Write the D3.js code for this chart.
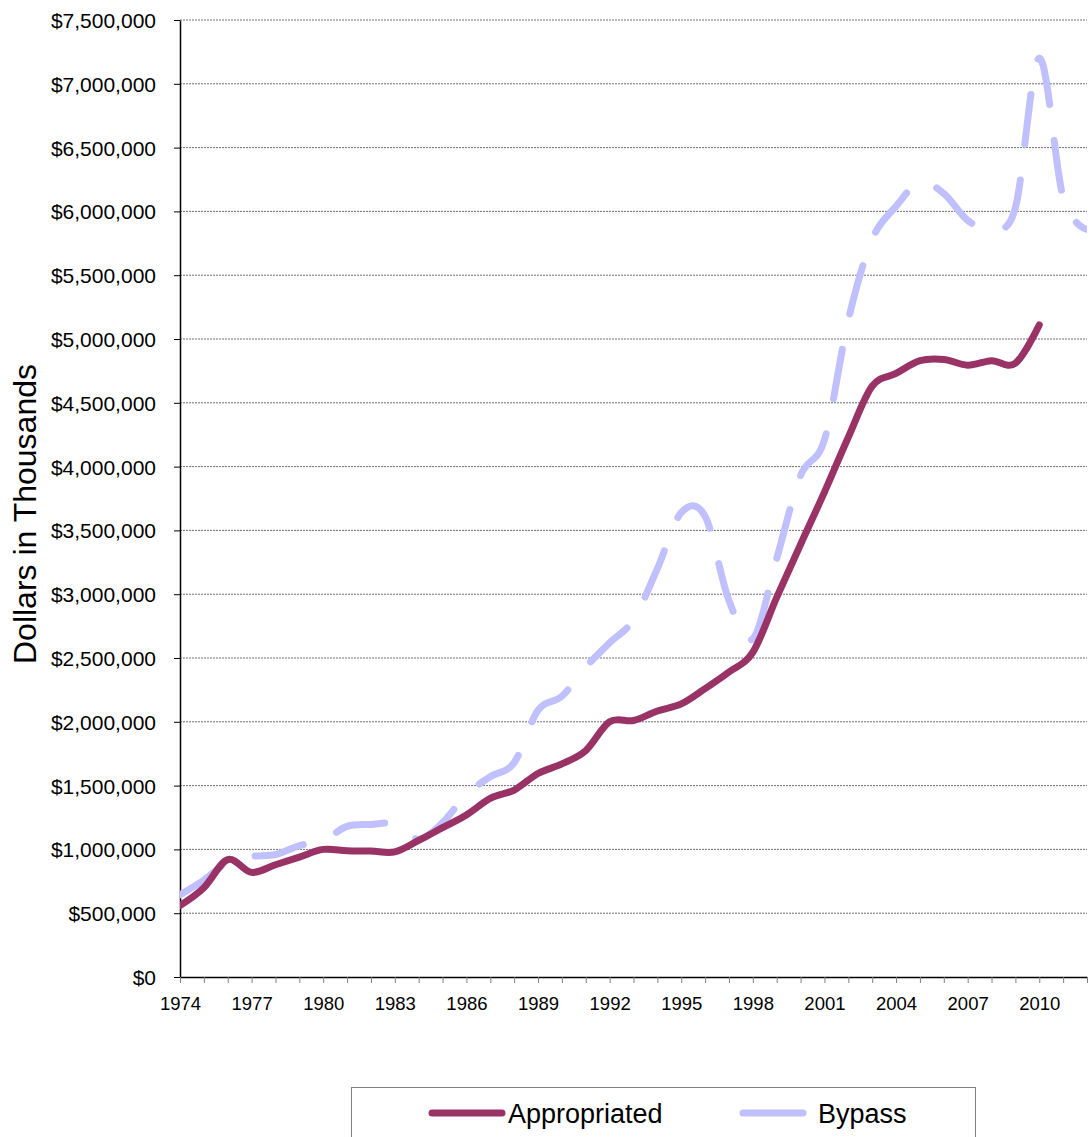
<!DOCTYPE html>
<html>
<head>
<meta charset="utf-8">
<script src="https://cdn.jsdelivr.net/npm/d3@7"></script>
<style>
  body { margin: 0; background: #fff; }
  svg { font-family: "Liberation Sans", Arial, sans-serif; }
  .grid line { stroke: #707070; stroke-width: 1; stroke-dasharray: 2,1; }
  .axis path, .axis line { stroke: #000; }
  .x-axis line { stroke: #808080; }
  .axis text { fill: #000; }
</style>
</head>
<body>
<div id="chart"></div>
<script>
// years on the category axis
const years = d3.range(1974, 2013);
const tickYears = d3.range(1974, 2011, 3);
const yTicks = d3.range(0, 7500001, 500000);

// values in thousands of dollars
const appropriated = [
  560000, 700000, 920000, 820000, 880000, 940000, 1000000, 990000, 987000, 980000,
  1070000, 1170000, 1270000, 1400000, 1465000, 1595000, 1670000, 1775000, 2000000, 2010000,
  2085000, 2140000, 2260000, 2390000, 2545000, 2975000, 3390000, 3800000, 4230000, 4630000,
  4730000, 4830000, 4840000, 4795000, 4830000, 4810000, 5110000
];
const bypass = [
  645000, 760000, 900000, 945000, 960000, 1030000, 1070000, 1180000, 1195000, 1200000,
  1080000, 1210000, 1430000, 1570000, 1680000, 2090000, 2200000, 2430000, 2620000, 2800000,
  3200000, 3640000, 3610000, 2950000, 2650000, 3280000, 3930000, 4210000, 5150000, 5780000,
  6040000, 6230000, 6140000, 5930000, 5860000, 6030000, 7200000, 6110000, 5860000
];
const seriesNames = ['Appropriated', 'Bypass'];

class LineChart {
    constructor(_config) {
        this.config = {
            parentElement: _config.parentElement,
            containerWidth: 1089,
            containerHeight: 1137,
            margin: { top: 20, right: 2, bottom: 160, left: 180 },
        };
        this.initVis();
    }

    initVis() {
        const vis = this;
        const c = vis.config;
        c.width = c.containerWidth - c.margin.left - c.margin.right;
        c.height = c.containerHeight - c.margin.top - c.margin.bottom;

        vis.svg = d3.select(c.parentElement).append('svg')
            .attr('width', c.containerWidth)
            .attr('height', c.containerHeight);

        vis.chart = vis.svg.append('g')
            .attr('transform', `translate(${c.margin.left},${c.margin.top})`);

        vis.svg.append('clipPath').attr('id', 'plot-clip')
          .append('rect')
            .attr('x', c.margin.left).attr('y', c.margin.top - 5)
            .attr('width', c.width).attr('height', c.height + 5);

        vis.xScale = d3.scaleLinear()
            .domain([1974, 2012])
            .range([0, c.width]);
        vis.yScale = d3.scaleLinear()
            .domain([0, 7500000])
            .range([c.height, 0]);

        vis.updateVis();
    }

    updateVis() {
        const vis = this;
        vis.lineFunc = d3.line()
            .x(d => vis.xScale(d.year))
            .y(d => vis.yScale(d.value))
            .curve(d3.curveCardinal.tension(0));

        vis.seriesData = [
            { name: 'Appropriated', color: '#993366', dash: null,
              values: appropriated.map((v, i) => ({ year: years[i], value: v })) },
            { name: 'Bypass', color: '#C0C0FF', dash: '50,36',
              values: bypass.map((v, i) => ({ year: years[i], value: v })) },
        ];
        vis.renderVis();
    }

    renderVis() {
        const vis = this;
        const c = vis.config;
        const fmt = d => '$' + d3.format(',')(d);

        // horizontal gridlines
        vis.chart.append('g')
            .attr('class', 'grid')
          .selectAll('line')
            .data(yTicks.filter(d => d > 0))
          .join('line')
            .attr('x1', 0).attr('x2', c.width)
            .attr('y1', d => vis.yScale(d)).attr('y2', d => vis.yScale(d));

        // y axis
        const yAxisG = vis.chart.append('g')
            .attr('class', 'axis y-axis')
            .call(d3.axisLeft(vis.yScale).tickValues(yTicks).tickFormat(fmt)
                .tickSize(6).tickSizeOuter(0).tickPadding(18));
        yAxisG.select('.domain').attr('stroke-width', 1.5);
        yAxisG.selectAll('text').style('font-size', '21px').attr('dy', '0.36em');

        // x axis: a tick every year, a label every third year
        const xAxisG = vis.chart.append('g')
            .attr('class', 'axis x-axis')
            .attr('transform', `translate(0,${c.height})`)
            .call(d3.axisBottom(vis.xScale).tickValues(years)
                .tickFormat(d => tickYears.includes(d) ? d : '')
                .tickSize(6).tickSizeOuter(0).tickPadding(14));
        xAxisG.select('.domain').attr('stroke', '#000').attr('stroke-width', 1.5);
        xAxisG.selectAll('text').style('font-size', '18.5px');

        // lines
        vis.svg.append('g')
            .attr('clip-path', 'url(#plot-clip)')
          .append('g')
            .attr('transform', `translate(${c.margin.left},${c.margin.top})`)
          .selectAll('.chart-line')
            .data(vis.seriesData.slice().reverse())
          .join('path')
            .attr('class', 'chart-line')
            .attr('fill', 'none')
            .attr('stroke', d => d.color)
            .attr('stroke-width', 7)
            .attr('stroke-linecap', 'round')
            .attr('stroke-linejoin', 'round')
            .attr('stroke-dasharray', d => d.dash)
            .attr('d', d => vis.lineFunc(d.values));

        // y title
        vis.svg.append('text')
            .attr('transform', 'translate(36,514) rotate(-90)')
            .attr('text-anchor', 'middle')
            .style('font-size', '32px')
            .text('Dollars in Thousands');

        // legend
        const legend = vis.svg.append('g');
        legend.append('rect')
            .attr('x', 351.5).attr('y', 1087.5)
            .attr('width', 624).attr('height', 70)
            .attr('fill', '#fff').attr('stroke', '#808080');
        const items = [
            { x1: 432, x2: 502, tx: 508 },
            { x1: 743, x2: 803, tx: 818 },
        ];
        items.forEach((it, i) => {
            legend.append('line')
                .attr('x1', it.x1).attr('x2', it.x2)
                .attr('y1', 1113).attr('y2', 1113)
                .attr('stroke', vis.seriesData[i].color)
                .attr('stroke-width', 7)
                .attr('stroke-linecap', 'round');
            legend.append('text')
                .attr('x', it.tx).attr('y', 1123)
                .style('font-size', '27px')
                .text(seriesNames[i]);
        });
    }
}

new LineChart({ parentElement: '#chart' });
</script>
</body>
</html>
